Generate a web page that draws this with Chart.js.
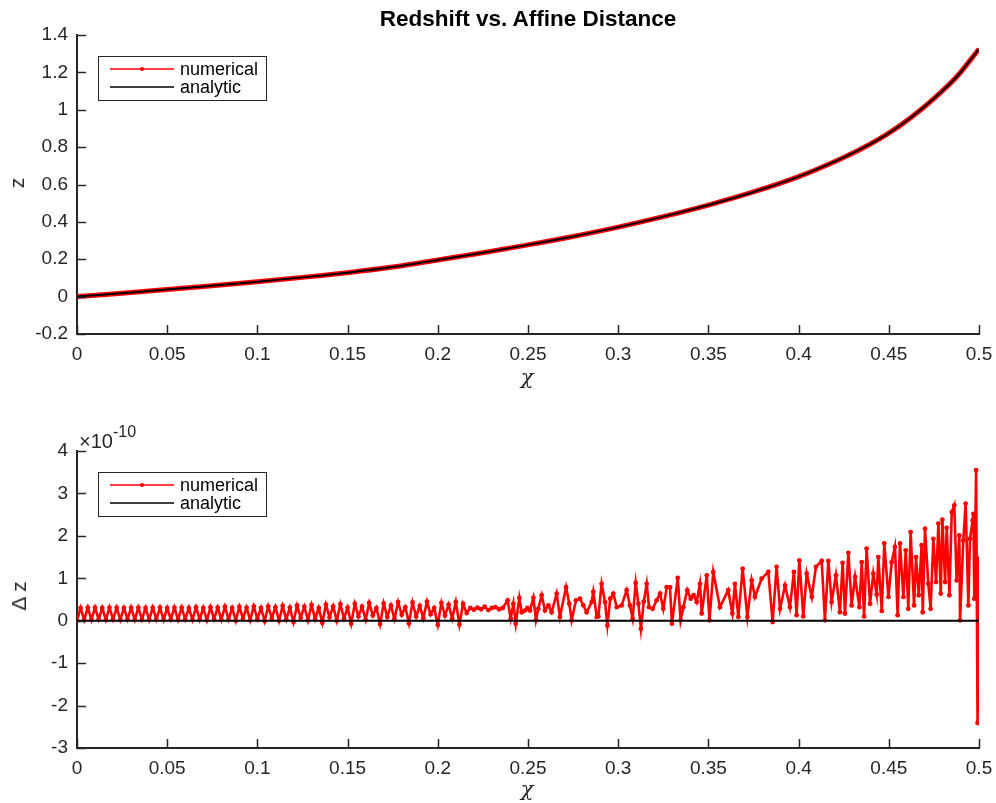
<!DOCTYPE html>
<html>
<head>
<meta charset="utf-8">
<script src="https://cdn.jsdelivr.net/npm/chart.js@4.4.1/dist/chart.umd.min.js"></script>
<style>
  body { margin: 0; background: #fff; width: 996px; height: 803px; position: relative; overflow: hidden; font-family: "Liberation Sans", Arial, sans-serif; color: #262626; }
  .box { position: absolute; left: 0; width: 996px; }
  .lbl { position: absolute; white-space: nowrap; }
  .rot { transform: translate(-50%, -50%) rotate(-90deg); }
  .ctr { transform: translate(-50%, -50%); }
</style>
</head>
<body>
<div class="box" style="top:0;height:400px"><canvas id="topChart" width="996" height="400"></canvas></div>
<div class="box" style="top:400px;height:403px"><canvas id="bottomChart" width="996" height="403"></canvas></div>

<div class="lbl ctr" style="left:528px;top:19px;font-weight:bold;font-size:22.5px;color:#000">Redshift vs. Affine Distance</div>
<div class="lbl rot" style="left:17px;top:183px;font-size:21px">z</div>
<div class="lbl ctr" style="left:527px;top:377px;font-size:21px;font-style:italic;font-family:'DejaVu Serif',serif">χ</div>
<div class="lbl rot" style="left:19px;top:596px;font-size:21px">Δ z</div>
<div class="lbl ctr" style="left:527px;top:789px;font-size:21px;font-style:italic;font-family:'DejaVu Serif',serif">χ</div>
<div class="lbl" style="left:79px;top:426px;font-size:20px">×10<sup style="font-size:16px;position:relative;top:-3px">-10</sup></div>

<script>
// DATA
// top panel: redshift z vs affine distance chi (numerical and analytic lie on top of each other)
const topChi = [0, 0.025, 0.05, 0.075, 0.1, 0.125, 0.15, 0.175, 0.2, 0.225, 0.25, 0.275, 0.3, 0.325, 0.35, 0.375, 0.4, 0.425, 0.4375, 0.45, 0.4625, 0.475, 0.4875, 0.5];
const topZ = [0, 0.018, 0.038, 0.058, 0.08, 0.103, 0.128, 0.158, 0.196, 0.235, 0.277, 0.322, 0.372, 0.428, 0.49, 0.56, 0.642, 0.745, 0.805, 0.875, 0.96, 1.06, 1.175, 1.325];

// bottom panel: delta z in units of 1e-10
const chiEarly = [
  0, .002, .004, .006, .008, .010, .012, .014, .016, .018,
  .020, .022, .024, .026, .028, .030, .032, .034, .036, .038,
  .040, .042, .044, .046, .048, .050, .052, .054, .056, .058,
  .060, .062, .064, .066, .068, .070, .072, .074, .076, .078,
  .080, .082, .084, .086, .088, .090, .092, .094, .096, .098,
  .100, .102, .104, .106, .108, .110, .112, .114, .116, .118,
  .120, .122, .124, .126, .128, .130, .132, .134, .136, .138,
  .140, .142, .144, .146, .148, .150, .152, .154, .156, .158,
  .160, .162, .164, .166, .168, .170, .172, .174, .176, .178,
  .180, .182, .184, .186, .188, .190, .192, .194, .196, .198,
  .200, .202, .204, .206, .208, .210, .212, .214, .216, .218,
  .220, .222, .224, .226, .228, .230, .232, .234, .236
];
const dzEarly = [
  0.00, 0.30, 0.02, 0.31, 0.02, 0.31, 0.03, 0.30, 0.02, 0.31,
  0.03, 0.31, 0.02, 0.30, 0.03, 0.31, 0.02, 0.31, 0.03, 0.30,
  0.02, 0.31, 0.03, 0.31, 0.02, 0.30, 0.03, 0.31, 0.02, 0.31,
  0.03, 0.30, 0.02, 0.32, 0.03, 0.30, 0.01, 0.32, 0.04, 0.31,
  0.02, 0.33, 0.03, 0.30, 0.00, 0.33, 0.05, 0.31, 0.01, 0.34,
  0.04, 0.30, -0.01, 0.34, 0.06, 0.32, 0.00, 0.35, 0.03, 0.31,
  -0.03, 0.36, 0.07, 0.33, 0.01, 0.37, 0.04, 0.30, -0.05, 0.38,
  0.08, 0.34, 0.00, 0.39, 0.05, 0.31, -0.07, 0.40, 0.10, 0.33,
  0.02, 0.42, 0.12, 0.30, -0.08, 0.41, 0.09, 0.36, 0.04, 0.44,
  0.14, 0.32, -0.06, 0.43, 0.10, 0.35, 0.06, 0.45, 0.15, 0.30,
  -0.10, 0.42, 0.12, 0.38, 0.05, 0.44, -0.09, 0.40, 0.18, 0.30,
  0.26, 0.31, 0.27, 0.33, 0.25, 0.30, 0.32, 0.27, 0.30
];
const chiMid = [
  0.2387, 0.2404, 0.2419, 0.2432, 0.2452, 0.2465, 0.2483, 0.2497, 0.2511, 0.2530,
  0.2544, 0.2557, 0.2576, 0.2594, 0.2613, 0.2631, 0.2659, 0.2677, 0.2711, 0.2729,
  0.2742, 0.2766, 0.2788, 0.2807, 0.2825, 0.2853, 0.2862, 0.2881, 0.2890, 0.2908,
  0.2927, 0.2940, 0.2956, 0.2973, 0.2992, 0.3019, 0.3047, 0.3065, 0.3080, 0.3097,
  0.3112, 0.3126, 0.3142, 0.3158, 0.3171, 0.3191, 0.3213, 0.3232, 0.3250, 0.3269,
  0.3287, 0.3298, 0.3330, 0.3346, 0.3361, 0.3383, 0.3402, 0.3418, 0.3435, 0.3453,
  0.3463, 0.3491, 0.3506, 0.3527
];
const dzMid = [
  0.48, 0.05, 0.40, -0.07, 0.54, 0.20, 0.24, 0.30, 0.24, 0.54,
  0.01, 0.28, 0.60, 0.24, 0.36, 0.20, 0.64, 0.09, 0.79, 0.40,
  0.01, 0.48, 0.52, 0.36, 0.20, 0.44, 0.68, 0.09, 0.10, 0.87,
  0.44, -0.11, 0.52, 0.64, 0.32, 0.36, 0.72, 0.36, 0.05, 0.89,
  0.40, -0.19, 0.45, 0.87, 0.32, 0.28, 0.48, 0.64, 0.28, 0.79,
  0.79, -0.07, 1.01, 0.01, 0.32, 0.72, 0.52, 0.60, 0.44, 0.87,
  0.17, 1.07, 0.01, 1.15
];
const chiLate = [
  0.3564, 0.3610, 0.3633, 0.3647, 0.3666, 0.3690, 0.3716, 0.3740, 0.3758, 0.3795,
  0.3832, 0.3856, 0.3878, 0.3897, 0.3925, 0.3952, 0.3974, 0.3989, 0.4004, 0.4026,
  0.4045, 0.4073, 0.4096, 0.4128, 0.4146, 0.4165, 0.4183, 0.4207, 0.4229, 0.4244,
  0.4257, 0.4276, 0.4294, 0.4313, 0.4337, 0.4350, 0.4363, 0.4377, 0.4396, 0.4414,
  0.4433, 0.4442, 0.4461, 0.4475, 0.4498, 0.4516, 0.4534, 0.4549, 0.4562, 0.4581,
  0.4594, 0.4608, 0.4621, 0.4640, 0.4651, 0.4666, 0.4682, 0.4688, 0.4701, 0.4719,
  0.4732, 0.4747, 0.4762, 0.4775, 0.4788, 0.4797, 0.4812, 0.4821, 0.4836, 0.4849,
  0.4863, 0.4876, 0.4891, 0.4895, 0.4913, 0.4926, 0.4941, 0.4950, 0.4965, 0.4969,
  0.4974, 0.4984, 0.4992, 0.5000
];
const dzLate = [
  0.32, 0.72, 0.17, 0.87, 0.09, 1.23, 0.09, 0.95, 0.56, 0.99,
  1.15, -0.03, 1.27, 0.28, 0.83, 0.32, 1.15, 0.13, 1.42, 0.10,
  1.11, 0.56, 1.27, 1.41, 0.01, 1.41, 0.44, 1.07, 0.20, 1.36,
  0.17, 1.60, 0.36, 1.03, 0.32, 1.38, 0.10, 1.70, 0.40, 1.11,
  0.62, 1.50, 0.23, 1.82, 0.56, 1.38, 1.74, 0.13, 1.82, 0.56,
  1.66, 0.28, 2.09, 0.36, 1.50, 0.60, 1.78, 0.20, 2.17, 0.87,
  0.28, 1.93, 0.91, 2.29, 0.64, 2.38, 0.91, 2.19, 0.60, 2.56,
  2.72, 0.95, 2.01, 0.01, 1.89, 2.76, 0.36, 1.93, 2.37, 2.52,
  0.52, 3.55, -2.41, 1.46
];
const analyticChi = [0, 0.5];
const analyticDz = [0, 0];

const chiTicks = [0, 0.05, 0.1, 0.15, 0.2, 0.25, 0.3, 0.35, 0.4, 0.45, 0.5];

const axisColor = '#262626';
const tickFont = { family: 'Liberation Sans, Arial, sans-serif', size: 19 };

Chart.defaults.animation = false;

function toPoints(xs, ys) {
    return xs.map((x, i) => ({ x: x, y: ys[i] }));
}

// MATLAB style ticks pointing into the axes
const inwardTicks = {
    id: 'inwardTicks',
    afterDraw(chart) {
        const { ctx, chartArea, scales } = chart;
        ctx.save();
        ctx.strokeStyle = axisColor;
        ctx.lineWidth = 1.5;
        scales.x.ticks.forEach((t, i) => {
            const px = Math.round(scales.x.getPixelForTick(i)) + 0.5;
            ctx.beginPath();
            ctx.moveTo(px, chartArea.bottom);
            ctx.lineTo(px, chartArea.bottom - 9);
            ctx.stroke();
        });
        scales.y.ticks.forEach((t, i) => {
            const py = Math.round(scales.y.getPixelForTick(i)) + 0.5;
            ctx.beginPath();
            ctx.moveTo(chartArea.left, py);
            ctx.lineTo(chartArea.left + 9, py);
            ctx.stroke();
        });
        ctx.restore();
    }
};

// legend box in the upper left corner
const matlabLegend = {
    id: 'matlabLegend',
    afterDraw(chart) {
        const { ctx, chartArea } = chart;
        const x0 = chartArea.left + 21, y0 = chartArea.top + 21;
        ctx.save();
        ctx.fillStyle = '#fff';
        ctx.fillRect(x0, y0, 168, 44);
        ctx.strokeStyle = axisColor;
        ctx.lineWidth = 1;
        ctx.strokeRect(x0 + 0.5, y0 + 0.5, 168, 44);
        const rows = [{ color: '#ff0000', dot: true, text: 'numerical', y: y0 + 13 },
                      { color: '#000000', dot: false, text: 'analytic', y: y0 + 31 }];
        rows.forEach(r => {
            ctx.strokeStyle = r.color;
            ctx.lineWidth = 1.5;
            ctx.beginPath();
            ctx.moveTo(x0 + 12, r.y);
            ctx.lineTo(x0 + 76, r.y);
            ctx.stroke();
            if (r.dot) {
                ctx.fillStyle = r.color;
                ctx.beginPath();
                ctx.arc(x0 + 44, r.y, 2, 0, Math.PI * 2);
                ctx.fill();
            }
            ctx.fillStyle = '#000';
            ctx.font = '18px "Liberation Sans", Arial, sans-serif';
            ctx.textBaseline = 'middle';
            ctx.fillText(r.text, x0 + 82, r.y + 1);
        });
        ctx.restore();
    }
};

function xScale(height) {
    return {
        type: 'linear', min: 0, max: 0.5,
        grid: { display: false, drawTicks: false },
        border: { display: true, color: axisColor, width: 2 },
        afterBuildTicks: s => { s.ticks = chiTicks.map(v => ({ value: v })); },
        ticks: { color: axisColor, font: tickFont, padding: 9, maxRotation: 0, autoSkip: false,
                 callback: v => String(Math.round(v * 100) / 100) },
        afterFit: s => { s.height = height; s.paddingLeft = 0; s.paddingRight = 0; }
    };
}

function yScale(min, max, step) {
    return {
        type: 'linear', min: min, max: max,
        grid: { display: false, drawTicks: false },
        border: { display: true, color: axisColor, width: 2 },
        ticks: { stepSize: step, color: axisColor, font: tickFont, padding: 9,
                 callback: v => String(Math.round(v * 100) / 100) },
        afterFit: s => { s.width = 77; s.paddingTop = 0; s.paddingBottom = 0; }
    };
}

const commonPlugins = { legend: { display: false }, tooltip: { enabled: false } };

// Top chart: z vs chi
new Chart(document.getElementById('topChart'), {
    type: 'line',
    data: {
        datasets: [{
            label: 'analytic',
            data: toPoints(topChi, topZ),
            borderColor: '#000000',
            borderWidth: 2,
            pointRadius: 0,
            cubicInterpolationMode: 'monotone',
            order: 0
        }, {
            label: 'numerical',
            data: toPoints(topChi, topZ),
            borderColor: '#ff0000',
            borderWidth: 5,
            pointRadius: 0,
            cubicInterpolationMode: 'monotone',
            order: 1
        }]
    },
    options: {
        responsive: false,
        layout: { padding: { top: 35, right: 17, left: 0, bottom: 0 } },
        scales: { x: xScale(66), y: yScale(-0.2, 1.4, 0.2) },
        plugins: commonPlugins
    },
    plugins: [inwardTicks, matlabLegend]
});

// Bottom chart: delta z vs chi
new Chart(document.getElementById('bottomChart'), {
    type: 'line',
    data: {
        datasets: [{
            label: 'analytic',
            data: toPoints(analyticChi, analyticDz),
            borderColor: '#000000',
            borderWidth: 2,
            pointRadius: 0,
            order: 0
        }, {
            label: 'numerical',
            data: toPoints(chiEarly.concat(chiMid, chiLate), dzEarly.concat(dzMid, dzLate)),
            borderColor: '#ff0000',
            backgroundColor: '#ff0000',
            borderWidth: 2.6,
            pointRadius: 2.4,
            pointBorderWidth: 0,
            tension: 0,
            order: 1
        }]
    },
    options: {
        responsive: false,
        layout: { padding: { top: 51, right: 17, left: 0, bottom: 0 } },
        scales: { x: xScale(55), y: yScale(-3, 4, 1) },
        plugins: commonPlugins
    },
    plugins: [inwardTicks, matlabLegend]
});
</script>
</body>
</html>
